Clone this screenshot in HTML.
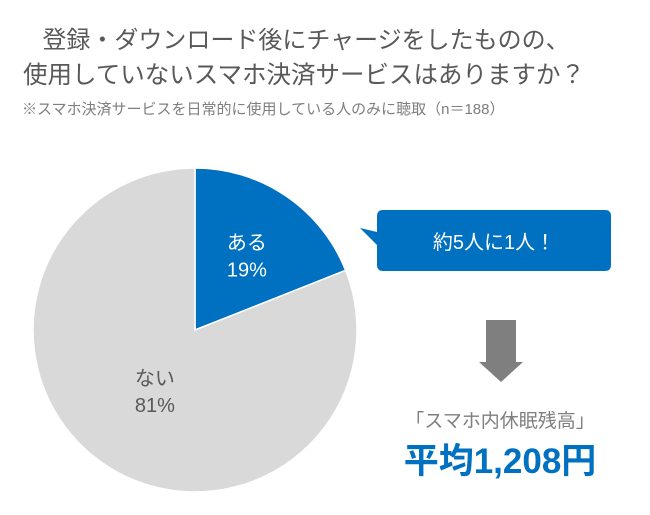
<!DOCTYPE html>
<html><head><meta charset="utf-8"><style>
body{margin:0;width:650px;height:510px;background:#fff;overflow:hidden;font-family:"Liberation Sans","Noto Sans CJK JP",sans-serif;}
svg text{font-family:"Liberation Sans","Noto Sans CJK JP",sans-serif;}
</style></head><body>
<svg width="650" height="510">
<text x="306" y="48" text-anchor="middle" font-size="24" fill="#595959">登録・ダウンロード後にチャージをしたものの、</text>
<text x="304" y="83" text-anchor="middle" font-size="24.5" fill="#595959">使用していないスマホ決済サービスはありますか？</text>
<text x="22" y="114" font-size="15" fill="#7f7f7f">※スマホ決済サービスを日常的に使用している人のみに聴取（n＝188）</text>
<g id="pie"></g>
<path d="M383,210 H605 Q611,210 611,216 V265 Q611,271 605,271 H383 Q377,271 377,265 V245 L360,228 L377,232 V216 Q377,210 383,210 Z" fill="#0070c0"/>
<text x="494" y="249" text-anchor="middle" font-size="20" fill="#fff">約5人に1人！</text>
<path d="M486,320 H516 V362 H523 L501,382 L479,362 H486 Z" fill="#7f7f7f"/>
<text x="500" y="427" text-anchor="middle" font-size="19" fill="#7f7f7f">「スマホ内休眠残高」</text>
<text x="500" y="473" text-anchor="middle" font-size="35" font-weight="bold" fill="#0070c0">平均1,208円</text>
</svg>
<script>
const labels=["ある","ない"];
const values=[19,81];
const colors=["#0070c0","#d9d9d9"];
const textColors=["#fff","#595959"];
const cx=195,cy=330,r=162;
const labelFrac=[0.57,0.44];
const g=document.getElementById('pie');
const ns="http://www.w3.org/2000/svg";
const total=values.reduce((a,b)=>a+b,0);
let acc=0;
values.forEach((v,i)=>{
  const a0=acc/total*2*Math.PI; acc+=v; const a1=acc/total*2*Math.PI;
  const x0=cx+r*Math.sin(a0),y0=cy-r*Math.cos(a0),x1=cx+r*Math.sin(a1),y1=cy-r*Math.cos(a1);
  const p=document.createElementNS(ns,'path');
  p.setAttribute('d',`M${cx},${cy} L${x0},${y0} A${r},${r} 0 ${a1-a0>Math.PI?1:0} 1 ${x1},${y1} Z`);
  p.setAttribute('fill',colors[i]);p.setAttribute('stroke','#fff');p.setAttribute('stroke-width','1.5');
  
  
  g.appendChild(p);
  const am=(a0+a1)/2, lr=r*labelFrac[i];
  const lx=cx+lr*Math.sin(am), ly=cy-lr*Math.cos(am);
  [labels[i],v+"%"].forEach((s,k)=>{
    const t=document.createElementNS(ns,'text');
    t.setAttribute('x',lx);t.setAttribute('y',ly-4+k*27);
    t.setAttribute('text-anchor','middle');t.setAttribute('font-size','20');t.setAttribute('fill',textColors[i]);
    t.textContent=s;
    
    
    g.appendChild(t);
  });
});
</script>
</body></html>
